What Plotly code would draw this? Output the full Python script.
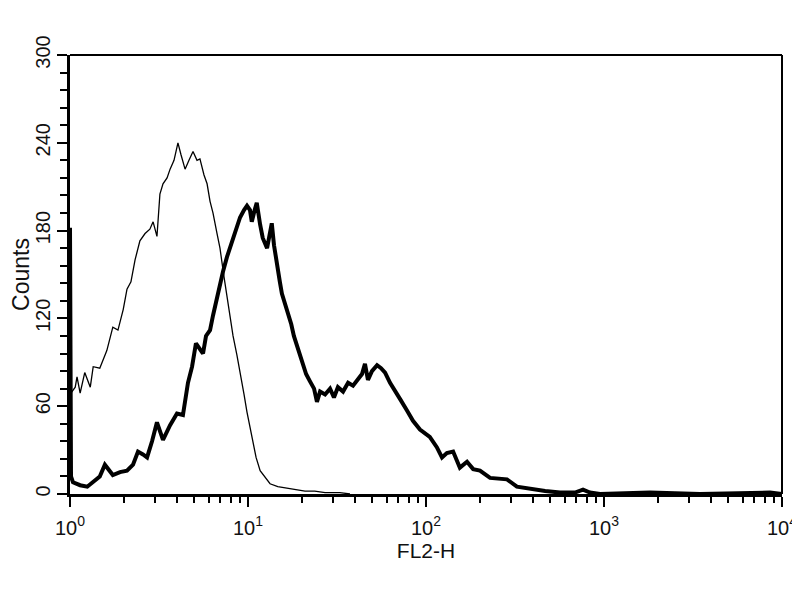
import plotly.graph_objects as go

# Thin (control) histogram: FL2-H channel value, counts
control_x = [1.0, 1.07, 1.095, 1.14, 1.21, 1.30, 1.35, 1.47, 1.61, 1.74, 1.86, 1.99, 2.09, 2.20,
             2.32, 2.47, 2.64, 2.81, 2.93, 3.08, 3.20, 3.33, 3.51, 3.65, 3.84, 4.04, 4.20, 4.43,
             4.66, 4.91, 5.17, 5.37, 5.66, 5.89, 6.12, 6.36, 6.70, 6.96, 7.34, 7.62, 7.92, 8.24,
             8.66, 9.02, 9.50, 9.87, 10.26, 10.7, 11.1, 11.7, 12.5, 13.3, 14.7, 16.6, 18.4, 20.9,
             23.7, 27.1, 32.8, 37.4]
control_y = [68, 73, 80, 69, 83, 73, 87, 86, 98, 114, 112, 126, 140, 145,
             160, 173, 178, 181, 186, 176, 205, 212, 216, 222, 228, 240, 232, 222,
             228, 234, 228, 229, 218, 212, 200, 192, 178, 168, 148, 135, 122, 108,
             95, 84, 68, 56, 45, 33, 25, 16, 11, 7, 5, 4, 3, 2,
             2, 1, 1, 0]

# Thick (stained) histogram
stained_x = [1.0, 1.013, 1.04, 1.14, 1.25, 1.35, 1.47, 1.57, 1.74, 1.91, 2.09, 2.26, 2.41, 2.57,
             2.71, 2.89, 3.08, 3.33, 3.65, 3.99, 4.31, 4.60, 4.85, 5.10, 5.31, 5.59, 5.81, 6.12,
             6.36, 6.70, 6.96, 7.24, 7.62, 7.92, 8.46, 9.02, 9.50, 9.87, 10.26, 10.5, 10.9, 11.2,
             11.7, 12.1, 12.8, 13.3, 13.6, 14.0, 14.6, 15.1, 15.5, 16.1, 16.8, 17.5, 18.1, 19.1,
             20.1, 21.2, 22.3, 23.5, 24.4, 25.4, 27.1, 28.9, 30.4, 32.0, 34.2, 36.5, 38.9, 41.5,
             43.7, 45.4, 47.2, 49.7, 53.1, 55.9, 58.9, 62.8, 66.9, 71.4, 78.2, 84.5, 92.5, 105,
             115, 123, 131, 142, 155, 170, 184, 201, 229, 261, 285, 324, 360, 399,
             467, 566, 687, 762, 834, 950, 1812, 3460, 8570, 10000]
stained_y = [182, 12, 8, 6, 5, 8, 12, 20, 13, 15, 16, 20, 29, 27,
             25, 36, 49, 37, 47, 55, 54, 76, 87, 103, 100, 96, 108, 112,
             122, 135, 144, 152, 162, 168, 180, 189, 194, 197, 194, 186, 194, 199,
             184, 175, 168, 180, 185, 170, 158, 145, 137, 131, 124, 116, 108, 99,
             90, 82, 77, 72, 63, 70, 68, 72, 66, 73, 70, 76, 74, 79,
             82, 89, 78, 84, 88, 86, 83, 76, 70, 65, 57, 50, 44, 39,
             32, 25, 28, 29, 18, 22, 17, 16, 11, 10, 10, 5, 4, 3,
             2, 1, 1, 3, 1, 0, 1, 0, 1, 0]

x_tickvals = [1, 10, 100, 1000, 10000]
x_ticktext = ["10<sup>0</sup>", "10<sup>1</sup>", "10<sup>2</sup>", "10<sup>3</sup>", "10<sup>4</sup>"]
x_minor = [m * 10 ** d for d in range(4) for m in range(2, 10)]
y_tickvals = [0, 60, 120, 180, 240, 300]
y_ticktext = ["0", "60", "120", "180", "240", "300"]

FONT = "Liberation Sans, Arial, sans-serif"
INK = "#111111"

fig = go.Figure()
fig.add_trace(go.Scatter(x=control_x, y=control_y, mode="lines",
                         line=dict(color="black", width=1.3), showlegend=False))
fig.add_trace(go.Scatter(x=stained_x, y=stained_y, mode="lines",
                         line=dict(color="black", width=4), showlegend=False))

fig.update_layout(
    width=792, height=584,
    margin=dict(l=62, r=18, t=47, b=98, autoexpand=False),
    paper_bgcolor="white", plot_bgcolor="white",
    font=dict(family=FONT, color=INK, size=20),
    xaxis=dict(
        type="log", range=[0, 4], automargin=False,
        tickmode="array", tickvals=x_tickvals, ticktext=x_ticktext,
        ticks="outside", ticklen=10, tickwidth=2, tickcolor="black",
        minor=dict(tickmode="array", tickvals=x_minor, ticks="outside",
                   ticklen=6, tickwidth=2, tickcolor="black", showgrid=False),
        showline=True, linecolor="black", linewidth=2.5, mirror=False,
        showgrid=False, zeroline=False, ticklabelstandoff=4,
        tickfont=dict(size=20, family=FONT, color=INK),
        title=dict(text="FL2-H", font=dict(size=21, family=FONT, color=INK), standoff=5),
    ),
    yaxis=dict(
        range=[0, 300], automargin=False,
        tickmode="array", tickvals=y_tickvals, ticktext=y_ticktext,
        ticks="outside", ticklen=10, tickwidth=2, tickcolor="black",
        minor=dict(dtick=12, ticks="outside", ticklen=7, tickwidth=2,
                   tickcolor="black", showgrid=False),
        showline=True, linecolor="black", linewidth=3, mirror=False,
        showgrid=False, zeroline=False,
        tickangle=-90, ticklabelstandoff=-1,
        tickfont=dict(size=20, family=FONT, color=INK),
        title=dict(text="Counts", font=dict(size=23, family=FONT, color=INK), standoff=13),
    ),
    shapes=[
        dict(type="line", xref="paper", yref="paper", x0=0, x1=1, y0=1, y1=1,
             line=dict(color="black", width=2)),
        dict(type="line", xref="paper", yref="paper", x0=1, x1=1, y0=0, y1=1,
             line=dict(color="black", width=2)),
    ],
)

fig.write_html("out.html")
